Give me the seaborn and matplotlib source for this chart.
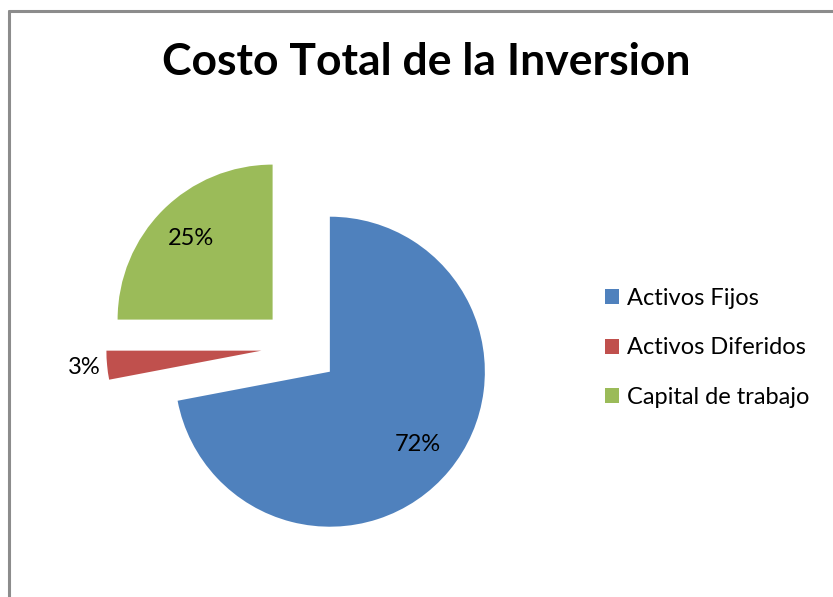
import matplotlib
matplotlib.use("Agg")
import matplotlib.pyplot as plt
import seaborn as sns
import numpy as np

categories = ["Activos Fijos", "Activos Diferidos", "Capital de trabajo"]
values = [72, 3, 25]
title = "Costo Total de la Inversion"

sns.set_theme(style="white")
plt.rcParams['font.family'] = ['Lato', 'DejaVu Sans']
plt.rcParams['text.color'] = 'black'
colors = sns.color_palette(["#4F81BD", "#C0504D", "#9BBB59"])

W, H = 833, 597
fig = plt.figure(figsize=(W / 100, H / 100), dpi=100)
fig.patch.set_facecolor("white")

# border lines (top and left, as in the cropped Excel chart)
fig.add_artist(plt.Line2D([9 / W, 1], [1 - 11 / H, 1 - 11 / H], color="#8c8c8c", lw=2.2))
fig.add_artist(plt.Line2D([9 / W, 9 / W], [0, 1 - 11 / H], color="#8c8c8c", lw=2.2))

R = 155  # pixel radius
cx, cy = 300, H - 347
side = 400
ax = fig.add_axes([(cx - side / 2) / W, (cy - side / 2) / H, side / W, side / H])
wedges, texts, autotexts = ax.pie(
    values, colors=colors, startangle=90, counterclock=False,
    explode=[0.25] * len(values), autopct="%1.0f%%", pctdistance=0.74,
    textprops=dict(fontsize=17, color="black"),
    wedgeprops=dict(linewidth=0),
)
lim = side / 2 / R
ax.set_xlim(-lim, lim)
ax.set_ylim(-lim, lim)

# move label of small slice outside
for w, t, v in zip(wedges, autotexts, values):
    if v < 5:
        ang = np.deg2rad((w.theta1 + w.theta2) / 2)
        ox, oy = w.center
        t.set_position((ox + 1.15 * np.cos(ang), oy + 1.15 * np.sin(ang)))

fig.text(426 / W, 1 - 62 / H, title, ha="center", va="center",
         fontsize=32, fontweight="bold", color="black")

leg = fig.legend(wedges, categories, loc="center left",
                 bbox_to_anchor=(605 / W, 1 - 348 / H), frameon=False,
                 fontsize=17, handlelength=0.6, handleheight=0.6,
                 handletextpad=0.34, labelspacing=1.2, borderpad=0,
                 borderaxespad=0)
for t in leg.get_texts():
    t.set_color("black")

fig.savefig("out.png", dpi=100, facecolor="white")
